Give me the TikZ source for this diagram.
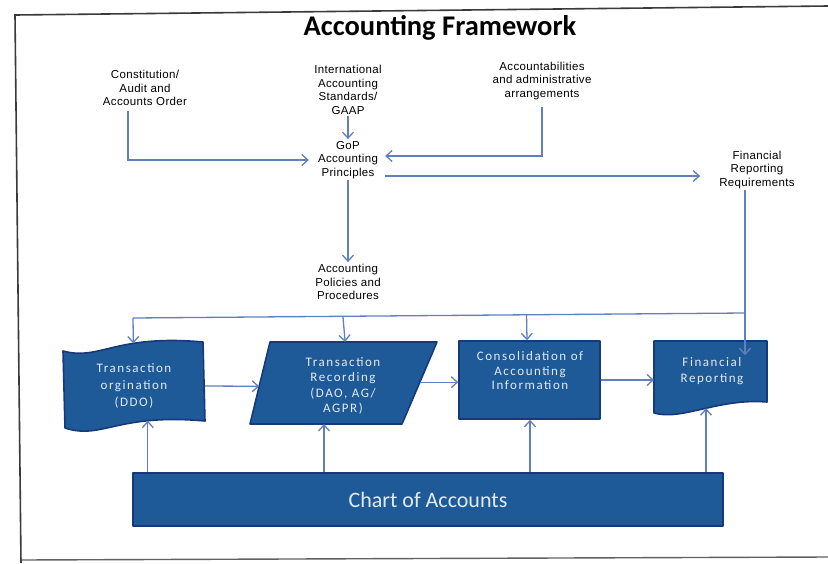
\documentclass[tikz,border=0pt]{standalone}
\usepackage{fontspec}
\setmainfont{Liberation Sans}
\newfontfamily\calib{Carlito}
\newfontfamily\calibsp[LetterSpace=12]{Carlito}
\newfontfamily\labelfont[LetterSpace=3]{Liberation Sans}
\usetikzlibrary{arrows.meta,calc}

\definecolor{linkblue}{HTML}{5F7FBF}
\definecolor{boxfill}{HTML}{1F5A98}
\definecolor{boxline}{HTML}{17397A}
\definecolor{boxtext}{HTML}{E2EAF3}
\definecolor{framegray}{HTML}{3A3A3A}

\tikzset{
  lbl/.style={align=center, inner sep=1pt, text=black,
    font=\labelfont\fontsize{11.5}{13.5}\selectfont},
  link/.style={draw=linkblue, line width=1.3pt},
  conn/.style={link, -{Straight Barb[length=6pt,width=11pt,line width=1.3pt]}},
  shapebox/.style={fill=boxfill, draw=boxline, line width=1.6pt, line join=round},
  boxlabel/.style={align=center, inner sep=0pt, text=boxtext,
    font=\calibsp\fontsize{13}{16}\selectfont},
}

\begin{document}
\begin{tikzpicture}[x=1pt, y=-1pt]
\useasboundingbox (0,0) rectangle (828,563);

% outer frame
\draw[framegray, line width=1.6pt] (21,563) -- (15,15) -- (828,6);
\draw[framegray!80, line width=1.4pt] (21,560) -- (828,557);

% title
\node (title) at (440,28) {\calib\bfseries\fontsize{28.5}{31}\selectfont Accounting Framework};

% source labels
\node[lbl] (const) at (145,88) {Constitution/\\Audit and\\Accounts Order};
\node[lbl] (ias)   at (348,90) {International\\Accounting\\Standards/\\GAAP};
\node[lbl] (accb)  at (542,81) {Accountabilities\\and administrative\\arrangements};
\node[lbl] (gop)   at (348,160) {GoP\\Accounting\\Principles};
\node[lbl] (frr)   at (757,170) {Financial\\Reporting\\Requirements};
\node[lbl] (pol)   at (348,282) {Accounting\\Policies and\\Procedures};

% transaction origination (punched tape)
\path[shapebox] (63,351) .. controls (100,361) and (115,334) .. (203,342)
  -- (205,421) .. controls (117,413) and (102,440) .. (65,428) -- cycle;
\path (63,351) .. controls (100,361) and (115,334) .. (203,342)
  coordinate[pos=0.65] (origTop);
\path (205,421) .. controls (117,413) and (102,440) .. (65,428)
  coordinate[pos=0.27] (origBot);
\node[boxlabel, font=\calibsp\fontsize{13}{17}\selectfont] (orig) at (134,386)
  {Transaction\\orgination\\(DDO)};

% transaction recording (parallelogram)
\path[shapebox] (270,342) coordinate (recTL) -- (437,342) coordinate (recTR)
  -- (402,424) coordinate (recBR) -- (250,424) coordinate (recBL) -- cycle;
\node[boxlabel, font=\calibsp\fontsize{13}{15.5}\selectfont] (rec) at (343,386)
  {Transaction\\Recording\\(DAO, AG/\\AGPR)};
\coordinate (recIn)  at ($(recTL)!0.54!(recBL)$);
\coordinate (recOut) at ($(recTR)!0.49!(recBR)$);

% consolidation (rectangle)
\node[shapebox, minimum width=141pt, minimum height=78pt, inner sep=0pt] (cons)
  at (529.5,380) {};
\node[boxlabel, font=\calibsp\fontsize{13}{14.5}\selectfont] (constext) at (530,371)
  {Consolidation of\\Accounting\\Information};

% financial reporting (document)
\path[shapebox] (654,341) -- (767,341) -- (767,402)
  .. controls (718,398) and (682,421) .. (654,413) -- cycle;
\path (767,402) .. controls (718,398) and (682,421) .. (654,413)
  coordinate[pos=0.47] (frBot);
\node[boxlabel, font=\calibsp\fontsize{13}{16}\selectfont] (fr) at (712,371)
  {Financial\\Reporting};

% chart of accounts
\node[shapebox, minimum width=590pt, minimum height=53pt, inner sep=0pt,
  text=boxtext, font=\calib\fontsize{22}{25}\selectfont] (chart) at (428,499.5)
  {Chart of Accounts};

% principles and standards
\draw[conn] ([shift={(-17,4)}]const.south) |- ([xshift=-8pt]gop.west);
\draw[conn] (ias.south) -- ([yshift=1pt]gop.north);
\draw[conn] ([shift={(0,6)}]accb.south) |- ([xshift=6pt,yshift=4pt]gop.east);
\draw[conn] ([xshift=6pt,yshift=-16pt]gop.east) -- ([xshift=-18pt,yshift=-6pt]frr.west);
\draw[conn] (gop.south) -- ([yshift=1pt]pol.north);

% distribution bus from reporting requirements
\coordinate (busR) at (745,313);
\coordinate (busL) at (133,318);
\draw[conn] (frr.south -| busR) -- ([yshift=2pt]fr.north -| busR);
\draw[link] (busR) -- (busL);
\draw[conn] (busL) -- (origTop);
\draw[conn] ($(busL)!0.343!(busR)$) -- ($(recTL)!0.45!(recTR)$);
\draw[conn] ($(busL)!0.643!(busR)$) -- (cons.north -| 527,0);

% process flow
\draw[conn] (orig.east -| 205,0) -- (recIn);
\draw[conn] (recOut) -- (cons.west |- recOut);
\draw[conn] (cons.east |- 0,380) -- (654,380);

% chart of accounts feeds
\draw[conn] (chart.north -| origBot) -- (origBot);
\draw[conn] (chart.north -| 324,0) -- (324,424);
\draw[conn] (chart.north -| 530,0) -- (cons.south -| 530,0);
\draw[conn] (chart.north -| frBot) -- (frBot);
\end{tikzpicture}
\end{document}
